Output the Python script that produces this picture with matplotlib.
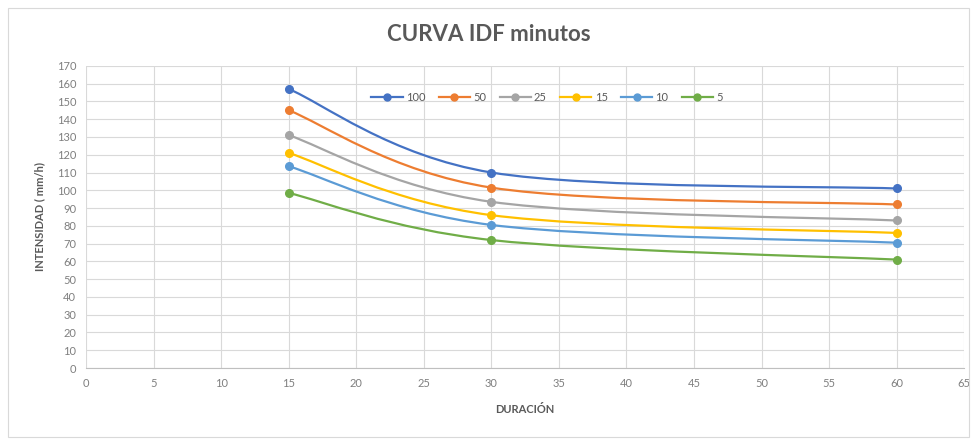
import numpy as np
import matplotlib
matplotlib.use("Agg")
import matplotlib.pyplot as plt
from matplotlib.path import Path
from matplotlib.patches import PathPatch, Rectangle
from matplotlib.lines import Line2D

plt.rcParams['font.family'] = ['Lato', 'DejaVu Sans']

# Data
duracion = [15, 30, 60]
periodos = ['100', '50', '25', '15', '10', '5']
i_100 = [157, 110, 101]
i_50 = [145, 101.5, 92]
i_25 = [131, 93.5, 83]
i_15 = [121, 86, 76]
i_10 = [113.5, 80.5, 70.5]
i_5 = [98.5, 72, 61]
series = [i_100, i_50, i_25, i_15, i_10, i_5]
colores = ['#4472C4', '#ED7D31', '#A5A5A5', '#FFC000', '#5B9BD5', '#70AD47']

x_ticks = list(range(0, 70, 5))
y_ticks = list(range(0, 180, 10))


def smooth_path(x, y):
    # Excel-style smoothed line: cubic Bezier through the points
    pts = np.column_stack([x, y]).astype(float)
    n = len(pts)
    verts = [pts[0]]
    codes = [Path.MOVETO]
    for i in range(n - 1):
        p0 = pts[i - 1] if i > 0 else pts[i]
        p1 = pts[i]
        p2 = pts[i + 1]
        p3 = pts[i + 2] if i + 2 < n else pts[i + 1]
        c1 = p1 + (p2 - p0) / 6.0
        c2 = p2 - (p3 - p1) / 6.0
        verts += [c1, c2, p2]
        codes += [Path.CURVE4] * 3
    return Path(verts, codes)


fig = plt.figure(figsize=(9.77, 4.45), dpi=100)
fig.patches.append(Rectangle((0.008, 0.018), 0.984, 0.965, transform=fig.transFigure,
                             fill=False, edgecolor='#d9d9d9', linewidth=0.8))
ax = fig.add_axes([0.088, 0.173, 0.899, 0.679])

handles = []
for vals, col, lab in zip(series, colores, periodos):
    ax.add_patch(PathPatch(smooth_path(duracion, vals), facecolor='none',
                           edgecolor=col, linewidth=1.6, zorder=3))
    ax.plot(duracion, vals, 'o', color=col, markersize=5.5, zorder=4)
    handles.append(Line2D([], [], color=col, marker='o', markersize=5, linewidth=1.6, label=lab))

ax.set_xlim(0, 65)
ax.set_ylim(0, 170)
ax.set_xticks(x_ticks)
ax.set_yticks(y_ticks)
ax.grid(True, color='#d9d9d9', linewidth=0.8)
ax.set_axisbelow(True)
for s in ['top', 'right', 'left']:
    ax.spines[s].set_visible(False)
ax.spines['bottom'].set_color('#bfbfbf')
ax.tick_params(length=0, labelsize=8, colors='#7f7f7f', pad=7)

ax.set_xlabel('DURACIÓN', fontsize=8, fontweight='bold', color='#595959', labelpad=11)
ax.set_ylabel('INTENSIDAD ( mm/h)', fontsize=8, fontweight='bold', color='#595959', labelpad=8)
fig.text(0.5, 0.922, 'CURVA IDF minutos', ha='center', va='center',
         fontsize=16, fontweight='bold', color='#595959')

ax.legend(handles=handles, loc='center', bbox_to_anchor=(0.525, 0.895), ncol=6,
          frameon=False, fontsize=8, labelcolor='#595959', handlelength=2.8,
          columnspacing=1.2, handletextpad=0.3)

fig.savefig('out.png', dpi=100)
